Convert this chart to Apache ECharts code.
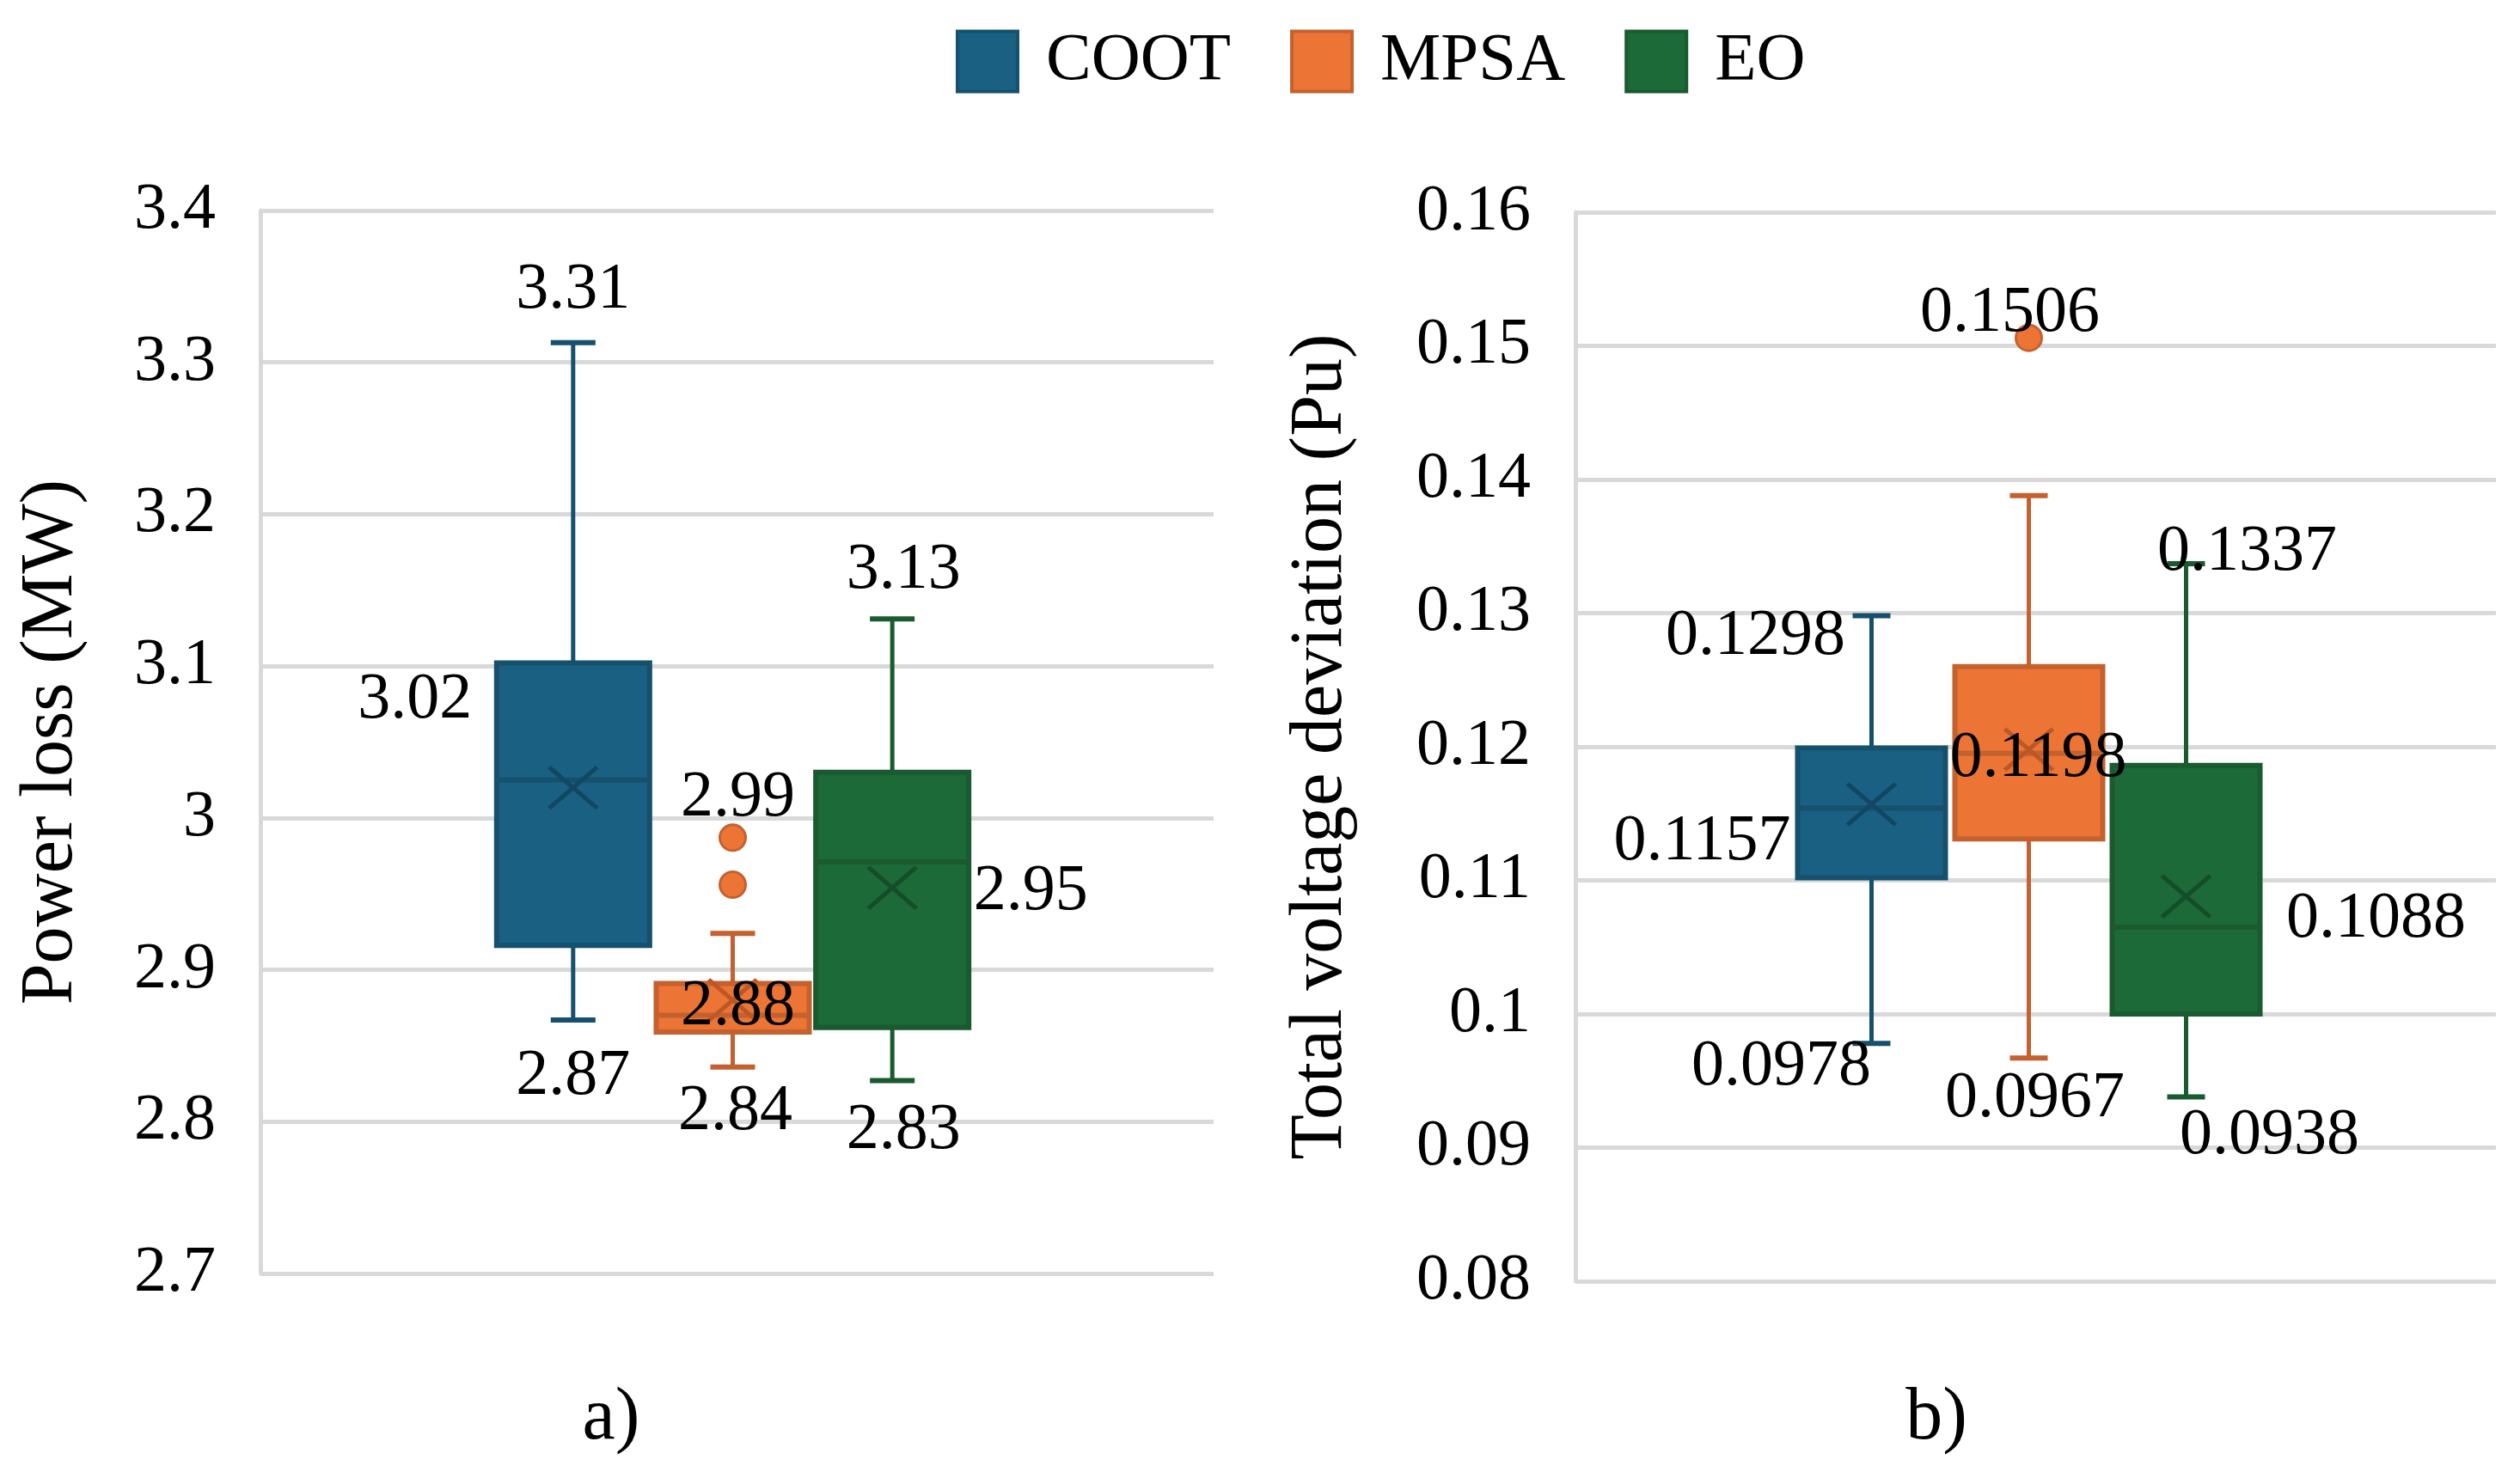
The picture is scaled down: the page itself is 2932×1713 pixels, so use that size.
<!DOCTYPE html>
<html><head><meta charset="utf-8">
<script src="https://cdn.jsdelivr.net/npm/echarts@6/dist/echarts.min.js"></script>
<style>html,body{margin:0;padding:0;background:#fff}#c{width:2932px;height:1713px}</style>
</head><body><div id="c"></div>
<script>
// ---------- data ----------
const categories = ['COOT', 'MPSA', 'EO'];
// a) Power loss (MW): [min, Q1, median, Q3, max]
const lossCOOT = [2.867, 2.916, 3.025, 3.102, 3.313];
const lossMPSA = [2.836, 2.859, 2.870, 2.891, 2.924];
const lossEO   = [2.827, 2.862, 2.971, 3.030, 3.131];
const lossMean = [3.02, 2.88, 2.954];
const lossOutliers = [[1, 2.987], [1, 2.956]];
const lossAxis = { min: 2.7, max: 3.4, interval: 0.1 };
// b) Total voltage deviation (Pu): [min, Q1, median, Q3, max]
const tvdCOOT = [0.0978, 0.1102, 0.1154, 0.1199, 0.1298];
const tvdMPSA = [0.0967, 0.1131, 0.1195, 0.1260, 0.1388];
const tvdEO   = [0.0938, 0.1000, 0.1065, 0.1186, 0.1337];
const tvdMean = [0.1157, 0.1198, 0.1088];
const tvdOutliers = [[1, 0.1506]];
const tvdAxis = { min: 0.08, max: 0.16, interval: 0.01 };
const panelLabels = ['a)', 'b)'];
const axisTitles = ['Power loss (MW)', 'Total voltage deviation (Pu)'];

// ---------- styling ----------
const FONT = "'Liberation Serif', 'Times New Roman', serif";
const fills   = ['#1A6083', '#EC7535', '#1B6A38'];
const strokes = ['#15506D', '#C4612E', '#195A2F'];
const xmarks  = ['#114762', '#BC5826', '#144D28'];
const GRIDC = '#D9D9D9';

// which values carry a data label, and where the label sits (px offsets)
const lossLabelPts = [[0, lossCOOT[4]], [0, lossMean[0]], [0, lossCOOT[0]],
                      [1, lossOutliers[0][1]], [1, lossMean[1]], [1, lossMPSA[0]],
                      [2, lossEO[4]], [2, lossMean[2]], [2, lossEO[0]]];
const lossLabelOff = [[0,-61],[-184,-101],[0,66],[6,-46],[6,8],[3,52],[13,-56],[161,5],[13,58]];
const tvdLabelPts = [[0, tvdCOOT[4]], [0, tvdMean[0]], [0, tvdCOOT[0]],
                     [1, tvdOutliers[0][1]], [1, tvdMean[1]], [1, tvdMPSA[0]],
                     [2, tvdEO[4]], [2, tvdMean[2]], [2, tvdEO[0]]];
const tvdLabelOff = [[-135,24],[-197,44],[-105,28],[-22,-28],[11,11],[7,48],[71,-13],[221,27],[97,46]];

function boxSeries(name, xi, yi, cat, stats, boxW, capW) {
  const fill = fills[cat], stroke = strokes[cat];
  return {
    name: name, type: 'custom', xAxisIndex: xi, yAxisIndex: yi, z: 2, silent: true,
    itemStyle: { color: fill, borderColor: stroke },
    data: [[cat].concat(stats)],
    encode: { x: 0, y: [1, 2, 3, 4, 5] },
    renderItem: function (params, api) {
      const c = api.value(0);
      const p = i => api.coord([c, api.value(i)]);
      const lo = p(1), q1 = p(2), md = p(3), q3 = p(4), hi = p(5);
      const x = lo[0];
      const ln = (x1, y1, x2, y2, w) => ({ type: 'line', shape: { x1, y1, x2, y2 }, style: { stroke: stroke, lineWidth: w || 5 } });
      return { type: 'group', children: [
        ln(x, q3[1], x, hi[1]),
        ln(x, q1[1], x, lo[1]),
        ln(x - capW / 2, hi[1], x + capW / 2, hi[1], 6),
        ln(x - capW / 2, lo[1], x + capW / 2, lo[1], 6),
        { type: 'rect', shape: { x: x - boxW / 2, y: q3[1], width: boxW, height: q1[1] - q3[1] }, style: { fill: fill, stroke: stroke, lineWidth: 6 } },
        ln(x - boxW / 2 + 3, md[1], x + boxW / 2 - 3, md[1], 6)
      ] };
    }
  };
}
function meanSeries(xi, yi, means) {
  return { type: 'scatter', xAxisIndex: xi, yAxisIndex: yi, z: 3, silent: true,
    symbol: 'path://M0,0L10,10M10,0L0,10', symbolSize: [56, 48],
    data: means.map((v, i) => ({ value: [i, v], itemStyle: { color: 'rgba(0,0,0,0)', borderColor: xmarks[i], borderWidth: 5, opacity: 1 } })) };
}
function outlierSeries(xi, yi, pts) {
  return { type: 'scatter', xAxisIndex: xi, yAxisIndex: yi, z: 3, silent: true,
    symbol: 'circle', symbolSize: 30,
    data: pts.map(p => ({ value: p, itemStyle: { color: fills[p[0]], borderColor: strokes[p[0]], borderWidth: 3, opacity: 1 } })) };
}
function labelSeries(xi, yi, pts, offs, digits) {
  return { type: 'scatter', xAxisIndex: xi, yAxisIndex: yi, z: 6, silent: true,
    symbol: 'circle', symbolSize: 1, itemStyle: { color: 'rgba(0,0,0,0)', opacity: 1 },
    data: pts.map((p, i) => ({ value: p, label: { show: true, position: 'inside', offset: offs[i],
      formatter: () => p[1].toFixed(digits), fontSize: 76, fontFamily: FONT, color: '#000',
      opacity: 1, textBorderWidth: 0 } })) };
}
function valueAxis(gi, ax, show, title, gap) {
  return { type: 'value', gridIndex: gi, min: ax.min, max: ax.max, interval: ax.interval, show: show,
    axisLine: { show: true, lineStyle: { color: GRIDC, width: 5 } }, axisTick: { show: false },
    axisLabel: { fontSize: 76, fontFamily: FONT, color: '#000', margin: 52 },
    splitLine: { show: true, lineStyle: { color: GRIDC, width: 5 } },
    name: title, nameLocation: 'middle', nameGap: gap,
    nameTextStyle: { fontSize: 86, fontFamily: FONT, color: '#000' } };
}

const chart = echarts.init(document.getElementById('c'), null, { renderer: 'canvas' });
chart.setOption({
  animation: false,
  backgroundColor: '#fff',
  legend: { left: 1107, top: 27, icon: 'rect', itemWidth: 70, itemHeight: 70, itemGap: 69,
    textStyle: { fontSize: 79, fontFamily: FONT, color: '#000', padding: [0, 0, 0, 28] },
    data: categories.map((n, i) => ({ name: n, itemStyle: { color: fills[i], borderColor: strokes[i], borderWidth: 4 } })) },
  grid: [
    { left: 303, top: 245, width: 1109, height: 1237 },
    { left: 574, top: 245, width: 557, height: 1237 },
    { left: 1833, top: 247, width: 1071, height: 1244 },
    { left: 2086, top: 247, width: 549, height: 1244 }
  ],
  xAxis: [
    { type: 'category', gridIndex: 0, data: [panelLabels[0]], show: false },
    { type: 'category', gridIndex: 1, data: categories, show: false },
    { type: 'category', gridIndex: 2, data: [panelLabels[1]], show: false },
    { type: 'category', gridIndex: 3, data: categories, show: false }
  ],
  yAxis: [
    valueAxis(0, lossAxis, true, axisTitles[0], 200),
    valueAxis(1, lossAxis, false, '', 0),
    valueAxis(2, tvdAxis, true, axisTitles[1], 253),
    valueAxis(3, tvdAxis, false, '', 0)
  ],
  graphic: [
    { type: 'text', x: 711, y: 1651, style: { text: panelLabels[0], fontSize: 86, fontFamily: FONT, fill: '#000', align: 'center', verticalAlign: 'middle' } },
    { type: 'text', x: 2253, y: 1651, style: { text: panelLabels[1], fontSize: 86, fontFamily: FONT, fill: '#000', align: 'center', verticalAlign: 'middle' } }
  ],
  series: [
    boxSeries('COOT', 1, 1, 0, lossCOOT, 178, 52),
    boxSeries('MPSA', 1, 1, 1, lossMPSA, 178, 52),
    boxSeries('EO',   1, 1, 2, lossEO,   178, 52),
    meanSeries(1, 1, lossMean),
    outlierSeries(1, 1, lossOutliers),
    labelSeries(1, 1, lossLabelPts, lossLabelOff, 2),
    boxSeries('COOT', 3, 3, 0, tvdCOOT, 172, 44),
    boxSeries('MPSA', 3, 3, 1, tvdMPSA, 172, 44),
    boxSeries('EO',   3, 3, 2, tvdEO,   172, 44),
    meanSeries(3, 3, tvdMean),
    outlierSeries(3, 3, tvdOutliers),
    labelSeries(3, 3, tvdLabelPts, tvdLabelOff, 4)
  ]
});
</script></body></html>
